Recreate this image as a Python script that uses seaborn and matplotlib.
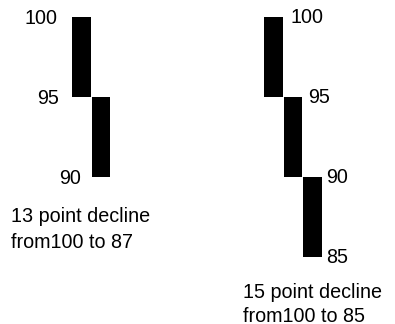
import matplotlib
matplotlib.use("Agg")
import matplotlib.pyplot as plt
import seaborn as sns

# box tops / bottoms for each column
left_tops = [100, 95]
left_bottoms = [95, 90]
left_labels = ["100", "95", "90"]
left_caption = ["13 point decline", "from100 to 87"]

right_tops = [100, 95, 90]
right_bottoms = [95, 90, 85]
right_labels = ["100", "95", "90", "85"]
right_caption = ["15 point decline", "from100 to 85"]

sns.set_theme(style="white")
plt.rcParams['font.family'] = ['Liberation Sans', 'DejaVu Sans']

fig = plt.figure(figsize=(3.95, 3.24), dpi=100)
ax = fig.add_axes([0, 0, 1, 1])
ax.set_xlim(0, 395)
# 100 sits at 17px from top, 16 px per point
ax.set_ylim(100 - (324 - 17) / 16, 100 + 17 / 16)
ax.axis("off")

fs = 14.2
tc = "black"

# left column
lx = [72 + i * 19.5 for i in range(len(left_tops))]
ax.bar(lx, [t - b for t, b in zip(left_tops, left_bottoms)], bottom=left_bottoms,
       width=18.5, align="edge", color="black", linewidth=0)
left_vals = [left_tops[0]] + left_bottoms
left_lx = [58, 59, 81]
for v, s, x in zip(left_vals, left_labels, left_lx):
    ax.text(x, v - 0.1, s, ha="right", va="center", fontsize=fs, color=tc)
ax.text(11, 100 - (217 - 17) / 16, left_caption[0], ha="left", va="center", fontsize=fs, color=tc)
ax.text(11, 100 - (243 - 17) / 16, left_caption[1], ha="left", va="center", fontsize=fs, color=tc)

# right column
rx = [264 + i * 19.5 for i in range(len(right_tops))]
ax.bar(rx, [t - b for t, b in zip(right_tops, right_bottoms)], bottom=right_bottoms,
       width=18.5, align="edge", color="black", linewidth=0)
right_vals = [right_tops[0]] + right_bottoms
right_lx = [291, 308, 326, 326]
for v, s, x in zip(right_vals, right_labels, right_lx):
    ax.text(x, v - 0.05, s, ha="left", va="center", fontsize=fs, color=tc)
ax.text(243, 100 - (292 - 17) / 16, right_caption[0], ha="left", va="center", fontsize=fs, color=tc)
ax.text(243, 100 - (316 - 17) / 16, right_caption[1], ha="left", va="center", fontsize=fs, color=tc)

fig.savefig("out.png", dpi=100, facecolor="white")
